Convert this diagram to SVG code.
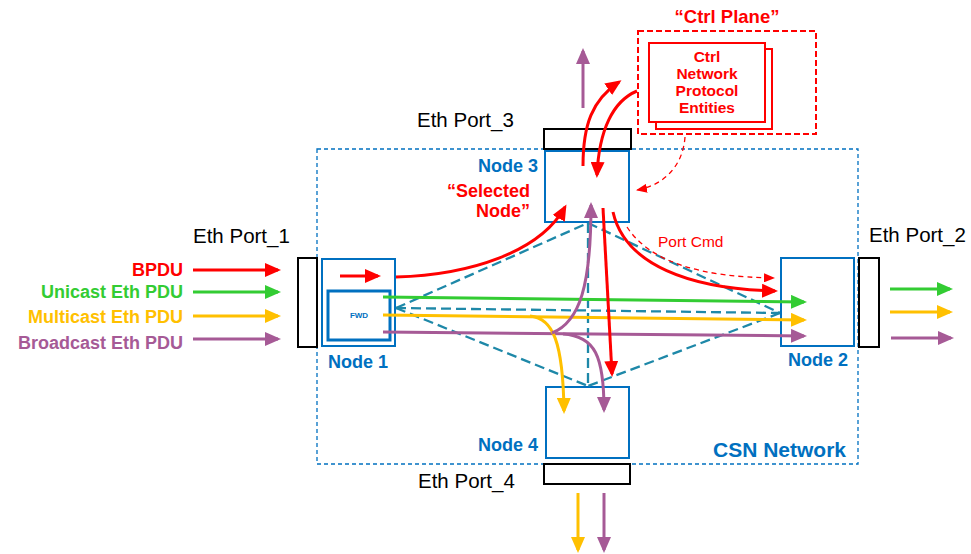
<svg xmlns="http://www.w3.org/2000/svg" width="971" height="554" viewBox="0 0 971 554">
<style>
text{font-family:"Liberation Sans",Arial,sans-serif}
.b{font-weight:bold}
.blue{fill:#0070C0}
.red{fill:#FF0000}
.port{fill:#fff;stroke:#000;stroke-width:2}
.node{fill:#fff;stroke:#0070C0;stroke-width:2}
.lbl{font-size:20.5px;fill:#000}
.nl{font-size:18px;font-weight:bold;fill:#0070C0}
.mesh{fill:none;stroke:#1E88A8;stroke-width:2.3;stroke-dasharray:10 5}
.r{fill:none;stroke:#FF0000;stroke-width:3}
.rd{fill:none;stroke:#FF0000;stroke-width:1.3;stroke-dasharray:5 4}
.g{fill:none;stroke:#33CC33;stroke-width:3}
.y{fill:none;stroke:#FFC000;stroke-width:3}
.p{fill:none;stroke:#A65A96;stroke-width:3}
</style>
<defs>
<marker id="ar" markerUnits="userSpaceOnUse" markerWidth="16" markerHeight="14" viewBox="0 0 16 14" refX="13" refY="7" orient="auto"><path d="M0,0L16,7L0,14z" fill="#FF0000"/></marker>
<marker id="ag" markerUnits="userSpaceOnUse" markerWidth="16" markerHeight="14" viewBox="0 0 16 14" refX="13" refY="7" orient="auto"><path d="M0,0L16,7L0,14z" fill="#33CC33"/></marker>
<marker id="ay" markerUnits="userSpaceOnUse" markerWidth="16" markerHeight="14" viewBox="0 0 16 14" refX="13" refY="7" orient="auto"><path d="M0,0L16,7L0,14z" fill="#FFC000"/></marker>
<marker id="ap" markerUnits="userSpaceOnUse" markerWidth="16" markerHeight="14" viewBox="0 0 16 14" refX="13" refY="7" orient="auto"><path d="M0,0L16,7L0,14z" fill="#A65A96"/></marker>
<marker id="ars" markerUnits="userSpaceOnUse" markerWidth="11" markerHeight="9" viewBox="0 0 11 9" refX="10" refY="4.5" orient="auto"><path d="M0,0L11,4.5L0,9z" fill="#FF0000"/></marker>
</defs>

<g id="csn-network">
<rect x="317" y="149" width="541" height="315" fill="none" stroke="#0070C0" stroke-width="1.3" stroke-dasharray="4 3"/>
<text x="846" y="457" text-anchor="end" class="b blue" font-size="21">CSN Network</text>
</g>

<g id="ctrl-plane">
<text x="727" y="23" text-anchor="middle" class="b red" font-size="18.5">“Ctrl Plane”</text>
<rect x="638" y="31" width="178" height="103" fill="none" stroke="#FF0000" stroke-width="2" stroke-dasharray="6 3"/>
<rect x="656" y="49" width="116" height="80" fill="#fff" stroke="#FF0000" stroke-width="2"/>
<rect x="649" y="43" width="116" height="79" fill="#fff" stroke="#FF0000" stroke-width="2"/>
<text x="707" text-anchor="middle" class="b red" font-size="15.5"><tspan x="707" y="62">Ctrl</tspan><tspan x="707" y="79">Network</tspan><tspan x="707" y="96">Protocol</tspan><tspan x="707" y="113">Entities</tspan></text>
</g>

<g id="legend">
<text x="183" y="276" text-anchor="end" class="b" font-size="18" fill="#FF0000">BPDU</text>
<text x="183" y="298" text-anchor="end" class="b" font-size="18" fill="#33CC33">Unicast Eth PDU</text>
<text x="183" y="323" text-anchor="end" class="b" font-size="18" fill="#FFC000">Multicast Eth PDU</text>
<text x="183" y="349" text-anchor="end" class="b" font-size="18" fill="#A65A96">Broadcast Eth PDU</text>
<line x1="193" y1="270" x2="278" y2="270" class="r" marker-end="url(#ar)"/>
<line x1="193" y1="292" x2="278" y2="292" class="g" marker-end="url(#ag)"/>
<line x1="193" y1="316" x2="278" y2="316" class="y" marker-end="url(#ay)"/>
<line x1="193" y1="339" x2="278" y2="339" class="p" marker-end="url(#ap)"/>
</g>

<g id="eth-port-1">
<rect x="298" y="258" width="19" height="89" class="port"/>
<text x="193" y="243" class="lbl">Eth Port_1</text>
</g>
<g id="eth-port-2">
<rect x="859" y="258" width="20" height="89" class="port"/>
<text x="869" y="242" class="lbl">Eth Port_2</text>
</g>
<g id="eth-port-3">
<rect x="544" y="129" width="87" height="20" class="port"/>
<text x="417" y="127" class="lbl">Eth Port_3</text>
</g>
<g id="eth-port-4">
<rect x="544" y="464" width="86" height="20" class="port"/>
<text x="418" y="488" class="lbl">Eth Port_4</text>
</g>

<g id="node-1">
<rect x="322" y="259" width="73" height="87" class="node"/>
<rect x="328" y="291" width="62" height="49" fill="#fff" stroke="#0070C0" stroke-width="3"/>
<text x="359" y="318" text-anchor="middle" class="b blue" font-size="8">FWD</text>
<text x="328" y="368" class="nl">Node 1</text>
</g>
<g id="node-2">
<rect x="781" y="258" width="73" height="88" class="node"/>
<text x="788" y="366" class="nl">Node 2</text>
</g>
<g id="node-3">
<rect x="545" y="151" width="84" height="71" class="node"/>
<text x="538" y="172" text-anchor="end" class="nl">Node 3</text>
<text text-anchor="end" class="b red" font-size="18"><tspan x="530" y="197">“Selected</tspan><tspan x="530" y="217">Node”</tspan></text>
</g>
<g id="node-4">
<rect x="546" y="387" width="83" height="71" class="node"/>
<text x="538" y="451" text-anchor="end" class="nl">Node 4</text>
</g>

<g id="connectors">
<line x1="396" y1="308" x2="588" y2="223" class="mesh"/>
<line x1="396" y1="308" x2="780" y2="313" class="mesh"/>
<line x1="396" y1="308" x2="588" y2="386" class="mesh"/>
<line x1="588" y1="223" x2="780" y2="313" class="mesh"/>
<line x1="588" y1="223" x2="588" y2="386" class="mesh"/>
<line x1="780" y1="313" x2="588" y2="386" class="mesh"/>

<line x1="383" y1="297" x2="804" y2="302" class="g" marker-end="url(#ag)"/>
<line x1="383" y1="315" x2="804" y2="320" class="y" marker-end="url(#ay)"/>
<line x1="383" y1="332" x2="804" y2="336" class="p" marker-end="url(#ap)"/>
<path d="M530,316 C553,318 563,342 564,411" class="y" marker-end="url(#ay)"/>
<path d="M552,333 C580,322 591,285 591,205" class="p" marker-end="url(#ap)"/>
<path d="M563,334 C595,336 604,356 604,410" class="p" marker-end="url(#ap)"/>

<line x1="340" y1="276" x2="378" y2="276" class="r" marker-end="url(#ar)"/>
<path d="M396,277 C470,275 540,252 565,207" class="r" marker-end="url(#ar)"/>
<path d="M583,166 C583,125 592,100 619,82" class="r" marker-end="url(#ar)"/>
<path d="M637,91 C613,101 599,130 597,175" class="r" marker-end="url(#ar)"/>
<line x1="603" y1="208" x2="612" y2="374" class="r" marker-end="url(#ar)"/>
<path d="M613,212 C625,265 690,289 775,291" class="r" marker-end="url(#ar)"/>
<path d="M685,137 C683,165 665,185 637,190" class="rd" marker-end="url(#ars)"/>
<path d="M627,227 C650,262 700,277 774,278" class="rd" marker-end="url(#ars)"/>
<text x="658" y="247" font-size="15.5" fill="#FF0000">Port Cmd</text>

<line x1="583" y1="108" x2="583" y2="51" class="p" marker-end="url(#ap)"/>
<line x1="578" y1="493" x2="578" y2="550" class="y" marker-end="url(#ay)"/>
<line x1="604" y1="493" x2="604" y2="550" class="p" marker-end="url(#ap)"/>
<line x1="890" y1="289" x2="950" y2="289" class="g" marker-end="url(#ag)"/>
<line x1="890" y1="312" x2="950" y2="312" class="y" marker-end="url(#ay)"/>
<line x1="891" y1="338" x2="951" y2="338" class="p" marker-end="url(#ap)"/>
</g>
</svg>
